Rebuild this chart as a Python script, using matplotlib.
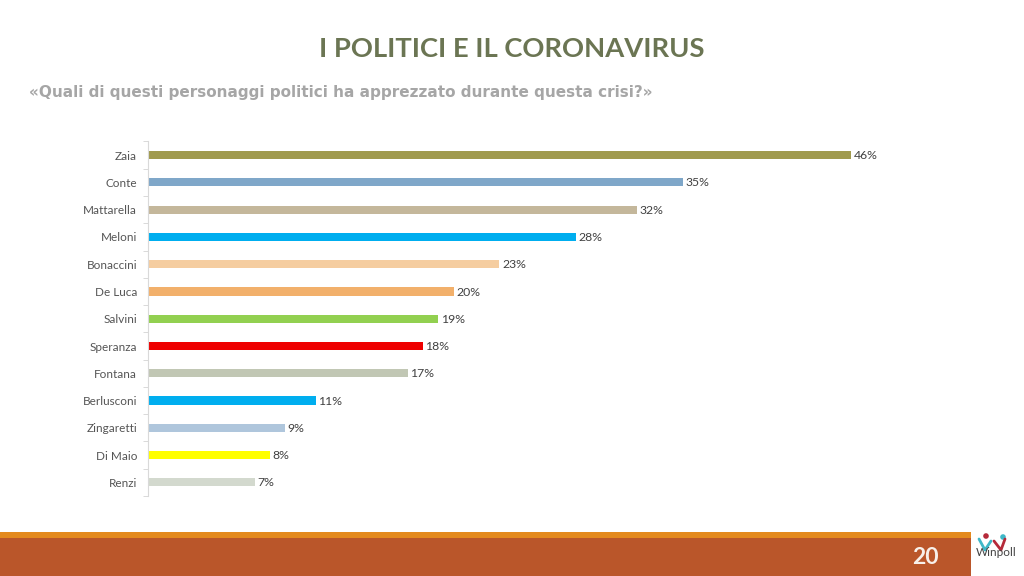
import matplotlib
matplotlib.use("Agg")
import matplotlib.pyplot as plt
from matplotlib.patches import Rectangle, Circle

plt.rcParams['font.family'] = ['Lato', 'DejaVu Sans']

# dati
nomi = ["Zaia", "Conte", "Mattarella", "Meloni", "Bonaccini", "De Luca", "Salvini",
        "Speranza", "Fontana", "Berlusconi", "Zingaretti", "Di Maio", "Renzi"]
valori = [46, 35, 32, 28, 23, 20, 19, 18, 17, 11, 9, 8, 7]
colori = ["#A09A4E", "#7FA7C9", "#C4B79B", "#00AEEF", "#F5CDA0", "#F2B06B", "#92D050",
          "#EE0000", "#C1C7B4", "#00AEEF", "#AFC6DC", "#FFFF00", "#D3D9CE"]

W, H = 1024, 576
fig = plt.figure(figsize=(W / 100, H / 100), dpi=100)

# sfondo in coordinate pixel
bg = fig.add_axes([0, 0, 1, 1])
bg.set_xlim(0, W)
bg.set_ylim(H, 0)
bg.axis("off")

bg.text(512, 49, "I POLITICI E IL CORONAVIRUS", ha="center", va="center",
        fontsize=19.7, fontweight="bold", color="#6B7553")
# il sottotitolo originale e' spaziato: DejaVu Bold da' la stessa larghezza
bg.text(29, 92, "«Quali di questi personaggi politici ha apprezzato durante questa crisi?»",
        ha="left", va="center", fontsize=11.03, fontweight="bold", color="#A6A6A6",
        family="DejaVu Sans")

# fascia in basso
bg.add_patch(Rectangle((0, 532), 971, 6, color="#E48A1E", lw=0))
bg.add_patch(Rectangle((0, 538), 971, 38, color="#BA562A", lw=0))
bg.text(925, 558, "20", ha="center", va="center", fontsize=16.5, fontweight="bold", color="#F7F0EA")

# logo
bg.plot([979, 985, 991], [539, 550, 541], color="#3FB8C8", lw=2, solid_capstyle="round")
bg.plot([994, 1001, 1005], [541, 550, 539], color="#B52A3A", lw=2, solid_capstyle="round")
bg.add_patch(Circle((986, 536), 2.8, color="#B52A3A", lw=0))
bg.add_patch(Circle((1003, 537), 2.8, color="#3FB8C8", lw=0))
bg.text(996.5, 553, "Winpoll", ha="center", va="center", fontsize=8.5, color="#444444")

# grafico
ax = fig.add_axes([147.5 / W, 1 - 496 / H, 765 / W, 354.5 / H])
ax.barh(range(len(nomi)), valori, height=0.3, color=colori)
ax.set_xlim(0, 50)
ax.set_ylim(12.5, -0.5)
ax.set_yticks([i - 0.5 for i in range(len(nomi) + 1)])
ax.set_yticklabels([])
ax.set_yticks(range(len(nomi)), labels=nomi, minor=True)
ax.tick_params(axis="y", which="major", length=3.5, width=0.7, color="#D9D9D9")
ax.tick_params(axis="y", which="minor", length=0, pad=7.5, labelsize=8.5, labelcolor="#555555")
ax.xaxis.set_visible(False)
for lato in ["top", "right", "bottom"]:
    ax.spines[lato].set_visible(False)
ax.spines["left"].set_color("#D9D9D9")
ax.spines["left"].set_linewidth(0.8)

for i, v in enumerate(valori):
    ax.text(v + 0.17, i + 0.02, f"{v}%", va="center", ha="left", fontsize=8.8, color="#404040")

fig.savefig("out.png", dpi=100)
